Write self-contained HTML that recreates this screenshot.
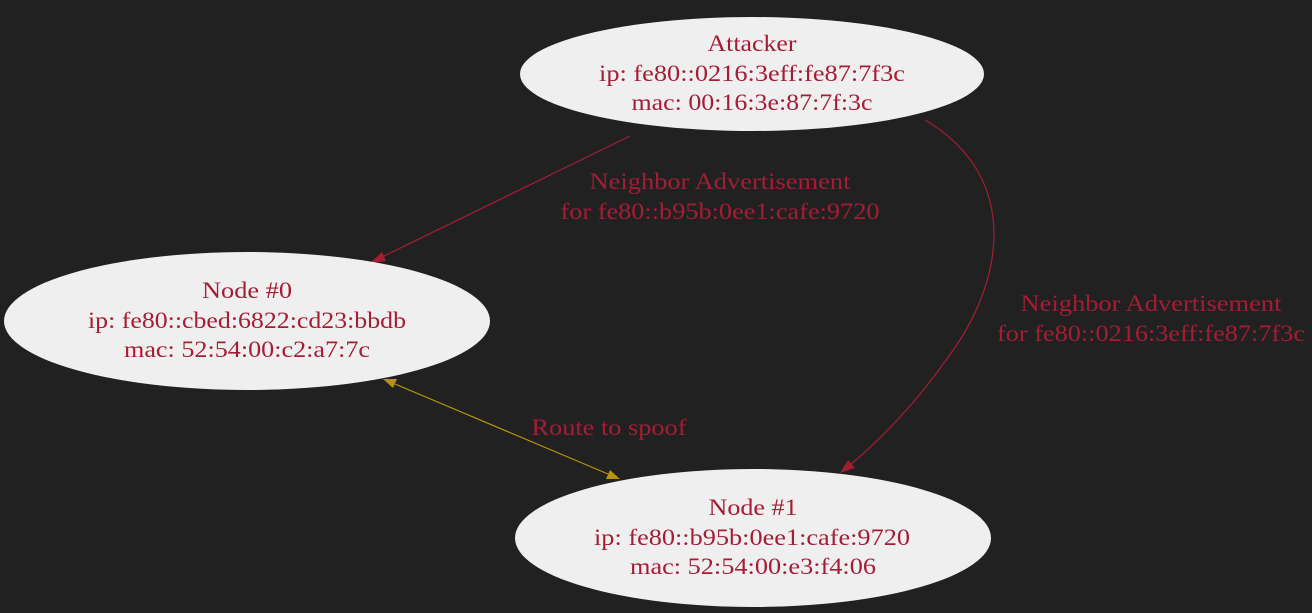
<!DOCTYPE html>
<html><head><style>
html,body{margin:0;padding:0;background:#212121;}
svg{display:block;}
text{font-family:"Liberation Serif",serif;font-size:23px;fill:#a51d35;text-anchor:middle;}
</style></head><body>
<svg width="1312" height="613" viewBox="0 0 1312 613" xmlns="http://www.w3.org/2000/svg">
<rect width="1312" height="613" fill="#212121"/>
<path d="M630,136 L382,257" stroke="#a51d35" stroke-width="1.2" fill="none"/>
<polygon points="370,263 382,252 386,261" fill="#a51d35"/>
<path d="M925,120 C1010,170 1010,260 960,340 C920,400 880,440 850,465" stroke="#a51d35" stroke-width="1.2" fill="none"/>
<polygon points="840,473 848,460 855,468" fill="#a51d35"/>
<path d="M395,384 L608,474" stroke="#b8940a" stroke-width="1.2" fill="none"/>
<polygon points="383,379 397,379 393,388" fill="#b8940a"/>
<polygon points="620,479 606,479 610,470" fill="#b8940a"/>
<ellipse cx="752" cy="74" rx="232" ry="57" fill="#efefef"/>
<ellipse cx="247" cy="321" rx="243" ry="69" fill="#efefef"/>
<ellipse cx="753" cy="538" rx="238" ry="69" fill="#efefef"/>
<g lengthAdjust="spacingAndGlyphs">
<text x="752" y="51" textLength="89" lengthAdjust="spacingAndGlyphs">Attacker</text>
<text x="752" y="81" textLength="306" lengthAdjust="spacingAndGlyphs">ip: fe80::0216:3eff:fe87:7f3c</text>
<text x="752" y="110" textLength="241" lengthAdjust="spacingAndGlyphs">mac: 00:16:3e:87:7f:3c</text>
<text x="247" y="298" textLength="90" lengthAdjust="spacingAndGlyphs">Node #0</text>
<text x="247" y="328" textLength="318" lengthAdjust="spacingAndGlyphs">ip: fe80::cbed:6822:cd23:bbdb</text>
<text x="247" y="357" textLength="246" lengthAdjust="spacingAndGlyphs">mac: 52:54:00:c2:a7:7c</text>
<text x="753" y="515" textLength="89" lengthAdjust="spacingAndGlyphs">Node #1</text>
<text x="752" y="545" textLength="316" lengthAdjust="spacingAndGlyphs">ip: fe80::b95b:0ee1:cafe:9720</text>
<text x="753" y="574" textLength="246" lengthAdjust="spacingAndGlyphs">mac: 52:54:00:e3:f4:06</text>
<text x="720" y="189" textLength="261" lengthAdjust="spacingAndGlyphs">Neighbor Advertisement</text>
<text x="720" y="219" textLength="319" lengthAdjust="spacingAndGlyphs">for fe80::b95b:0ee1:cafe:9720</text>
<text x="1151" y="311" textLength="261" lengthAdjust="spacingAndGlyphs">Neighbor Advertisement</text>
<text x="1151" y="341" textLength="308" lengthAdjust="spacingAndGlyphs">for fe80::0216:3eff:fe87:7f3c</text>
<text x="609" y="435" textLength="155" lengthAdjust="spacingAndGlyphs">Route to spoof</text>
</g>
</svg>
</body></html>
